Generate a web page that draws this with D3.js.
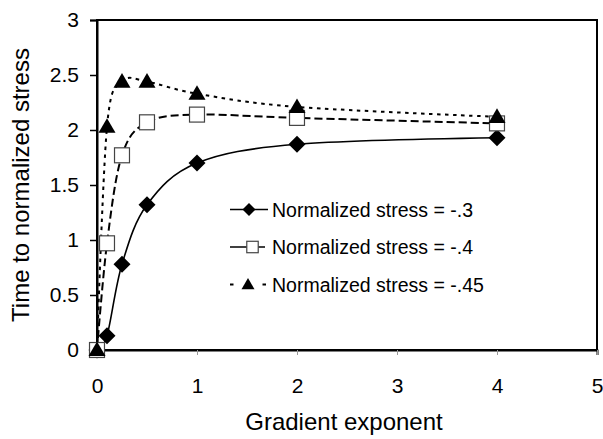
<!DOCTYPE html>
<html>
<head>
<meta charset="utf-8">
<script src="https://cdn.jsdelivr.net/npm/d3@7"></script>
<style>
  html, body { margin: 0; padding: 0; background: #fff; }
  svg { display: block; font-family: "Liberation Sans", Arial, sans-serif; }
</style>
</head>
<body>
<svg id="chart" width="603" height="439"></svg>
<script>
// Gradient exponent values shared by all three series
const exponents = [0, 0.1, 0.25, 0.5, 1, 2, 4];

// Time to reach the normalized stress level, one array per stress level
const stress03 = [0, 0.13, 0.78, 1.32, 1.70, 1.87, 1.93];
const stress04 = [0, 0.97, 1.77, 2.07, 2.14, 2.11, 2.06];
const stress045 = [0, 2.03, 2.44, 2.44, 2.33, 2.21, 2.12];

const seriesNames = ["Normalized stress = -.3", "Normalized stress = -.4", "Normalized stress = -.45"];
const xTicks = [0, 1, 2, 3, 4, 5];
const yTicks = [0, 0.5, 1, 1.5, 2, 2.5, 3];

const svg = d3.select("#chart");
const plotLeft = 97, plotRight = 597, plotTop = 20, plotBottom = 350;
const font = "Liberation Sans, Arial, sans-serif";

const x = d3.scaleLinear().domain([0, 5]).range([plotLeft, plotRight]);
const y = d3.scaleLinear().domain([0, 3]).range([plotBottom, plotTop]);

// Frame of the plot area
svg.append("rect")
  .attr("x", plotLeft).attr("y", plotTop)
  .attr("width", plotRight - plotLeft).attr("height", plotBottom - plotTop)
  .attr("fill", "none").attr("stroke", "#000").attr("stroke-width", 2);

// Axes
const xAxis = svg.append("g")
  .attr("transform", `translate(0,${plotBottom})`)
  .call(d3.axisBottom(x).tickValues(xTicks).tickFormat(d3.format("d")).tickSize(5).tickPadding(23));
xAxis.select(".domain").attr("stroke", "#000").attr("stroke-width", 2);
xAxis.selectAll(".tick line").attr("stroke", "#999");
xAxis.selectAll(".tick text").attr("font-size", 21).attr("fill", "#000").attr("font-family", font);

const yAxis = svg.append("g")
  .attr("transform", `translate(${plotLeft},0)`)
  .call(d3.axisLeft(y).tickValues(yTicks).tickFormat(d => String(d)).tickSize(7).tickPadding(11));
yAxis.select(".domain").attr("stroke", "#000").attr("stroke-width", 2);
yAxis.selectAll(".tick line").attr("stroke", "#000").attr("stroke-width", 1.5);
yAxis.selectAll(".tick text").attr("font-size", 21).attr("fill", "#000").attr("font-family", font);

// Axis titles
svg.append("text")
  .attr("x", 344).attr("y", 430)
  .attr("text-anchor", "middle").attr("font-size", 24).attr("fill", "#000")
  .text("Gradient exponent");

svg.append("text")
  .attr("transform", `translate(29,${(plotTop + plotBottom) / 2}) rotate(-90)`)
  .attr("text-anchor", "middle").attr("font-size", 24).attr("fill", "#000")
  .text("Time to normalized stress");

// Smoothed series lines
const line = d3.line()
  .x(d => x(d[0])).y(d => y(d[1]))
  .curve(d3.curveCardinal.tension(0));

const series = [
  { name: seriesNames[0], values: stress03, dash: null, marker: "diamond" },
  { name: seriesNames[1], values: stress04, dash: "8,4", marker: "square" },
  { name: seriesNames[2], values: stress045, dash: "3.5,4.5", marker: "triangle" }
];

const plot = svg.append("g");

function drawMarker(g, type, cx, cy, r) {
  if (type === "diamond") {
    g.append("path")
      .attr("d", `M${cx},${cy - r}L${cx + r},${cy}L${cx},${cy + r}L${cx - r},${cy}Z`)
      .attr("fill", "#000");
  } else if (type === "square") {
    const h = r * 0.88;
    g.append("rect")
      .attr("x", cx - h).attr("y", cy - h).attr("width", 2 * h).attr("height", 2 * h)
      .attr("fill", "#fff").attr("stroke", "#444").attr("stroke-width", 1.2);
  } else {
    g.append("path")
      .attr("d", `M${cx},${cy - r}L${cx + r},${cy + r * 0.72}L${cx - r},${cy + r * 0.72}Z`)
      .attr("fill", "#000");
  }
}

series.forEach(s => {
  const pts = exponents.map((e, i) => [e, s.values[i]]);
  plot.append("path")
    .attr("d", line(pts))
    .attr("fill", "none").attr("stroke", "#000")
    .attr("stroke-width", s.dash ? 2 : 1.6)
    .attr("stroke-dasharray", s.dash);
});

series.forEach(s => {
  const g = plot.append("g");
  exponents.forEach((e, i) => drawMarker(g, s.marker, x(e), y(s.values[i]), 8.5));
});

// Legend
const legend = svg.append("g");
const legendRows = [209.5, 247, 284.5];
const legendMarkerX = [249, 252.5, 248];
series.forEach((s, i) => {
  const ly = legendRows[i];
  if (s.marker === "triangle") {
    legend.append("line")
      .attr("x1", 230).attr("x2", 266).attr("y1", ly).attr("y2", ly)
      .attr("stroke", "#000").attr("stroke-width", 2)
      .attr("stroke-dasharray", "3.5,29");
  } else {
    legend.append("line")
      .attr("x1", 230).attr("x2", s.marker === "square" ? 265 : 268).attr("y1", ly).attr("y2", ly)
      .attr("stroke", "#000").attr("stroke-width", 1.6);
  }
  drawMarker(legend, s.marker, legendMarkerX[i], ly, 6.5);
  legend.append("text")
    .attr("x", 272).attr("y", ly + 7)
    .attr("font-size", 19.5).attr("fill", "#000")
    .text(s.name);
});
</script>
</body>
</html>
